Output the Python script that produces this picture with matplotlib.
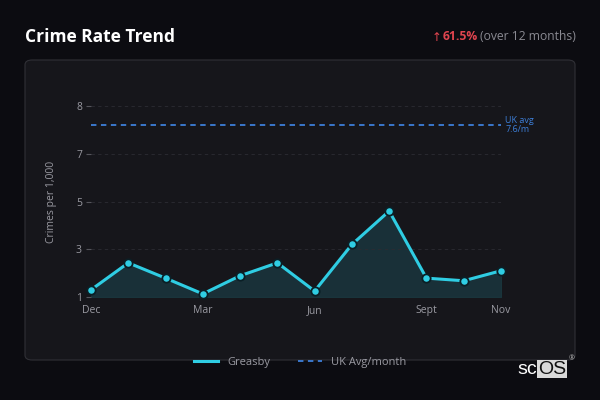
import matplotlib
matplotlib.use('Agg')
import matplotlib.pyplot as plt
import numpy as np
from matplotlib.patches import FancyBboxPatch
from matplotlib.lines import Line2D

plt.rcParams['font.family'] = ['Open Sans', 'DejaVu Sans']

months = ['Dec', 'Jan', 'Feb', 'Mar', 'Apr', 'May', 'Jun', 'Jul', 'Aug', 'Sept', 'Oct', 'Nov']
greasby = [1.3, 2.43, 1.79, 1.13, 1.89, 2.43, 1.25, 3.2, 4.6, 1.79, 1.68, 2.1]
uk_avg = 7.6
y_ticks = [1, 3, 5, 7, 8]
x_tick_idx = [0, 3, 6, 9, 11]

BG = '#0c0c11'
CARD = '#16161b'
CYAN = '#2fcde3'
BLUE = '#3d7fd9'
GRAY = '#9a9aa2'

fig = plt.figure(figsize=(6, 4), dpi=100, facecolor=BG)

# card behind the plot
card = FancyBboxPatch((25 / 600, 40 / 400), 550 / 600, 300 / 400,
                      boxstyle='round,pad=0,rounding_size=0.012',
                      transform=fig.transFigure, facecolor=CARD,
                      edgecolor='#303036', linewidth=0.8, zorder=-1)
fig.patches.append(card)

ax = fig.add_axes([91 / 600, 1 - 297 / 400, 410 / 600, (297 - 106) / 400])
ax.set_facecolor('none')

pos = np.arange(len(y_ticks))
ax.set_yscale('function', functions=(lambda v: np.interp(v, y_ticks, pos),
                                     lambda p: np.interp(p, pos, y_ticks)))

x = np.arange(len(months))
ax.fill_between(x, greasby, 1, color='#1b3a42', alpha=0.75, zorder=1)
ax.plot(x, greasby, color=CYAN, lw=2.2, marker='o', ms=6,
        markerfacecolor=CYAN, markeredgecolor='#0b1f26', markeredgewidth=1.3,
        zorder=3, clip_on=False)
ax.plot([x[0], x[-1]], [uk_avg, uk_avg], color=BLUE, lw=1.3,
        ls=(0, (3, 2.5)), zorder=2)
ax.text(x[-1] + 0.12, uk_avg, 'UK avg\n7.6/m', color=BLUE, fontsize=6.5,
        va='center', ha='left', linespacing=1.1)

ax.set_xlim(0, 11)
ax.set_ylim(1, 8)
ax.set_yticks(y_ticks)
ax.set_yticklabels([str(t) for t in y_ticks])
ax.set_xticks(x_tick_idx)
ax.set_xticklabels([months[i] for i in x_tick_idx])
ax.yaxis.set_minor_locator(matplotlib.ticker.NullLocator())

ax.tick_params(axis='y', colors='#55555c', labelcolor=GRAY, labelsize=7.5,
               length=3.5, width=0.8, pad=3)
ax.tick_params(axis='x', length=0, labelcolor=GRAY, labelsize=7.5, pad=6)
for s in ax.spines.values():
    s.set_visible(False)
ax.grid(axis='y', color='#2c2c33', lw=0.6, ls=(0, (4, 4)))
ax.set_ylabel('Crimes per 1,000', color=GRAY, fontsize=7.5, labelpad=14)

fig.text(25 / 600, 1 - 37 / 400, 'Crime Rate Trend', color='white',
         fontsize=12.5, fontweight='bold', va='center', ha='left')
fig.text(576 / 600, 1 - 37 / 400, '(over 12 months)', color='#8a8a92',
         fontsize=8.7, va='center', ha='right')
fig.text(478 / 600, 1 - 37 / 400, '61.5%', color='#e0454f',
         fontsize=8.7, fontweight='bold', va='center', ha='right')
fig.text(432 / 600, 1 - 37.5 / 400, '↑', color='#e0454f',
         fontsize=8.5, va='center', ha='left', family='DejaVu Sans')

handles = [Line2D([], [], color=CYAN, lw=2.2),
           Line2D([], [], color=BLUE, lw=1.3, ls=(0, (3, 2.5)))]
fig.legend(handles, ['Greasby', 'UK Avg/month'], loc='center',
           bbox_to_anchor=(0.5, 1 - 362 / 400), ncol=2,
           frameon=False, fontsize=8, labelcolor=GRAY, handlelength=2.2,
           columnspacing=2.5, handletextpad=0.8)

fig.text(517 / 600, 1 - 369 / 400, 'sc', color='white', fontsize=14,
         va='center', ha='left', family='Liberation Sans')
fig.text(538 / 600, 1 - 369 / 400, 'OS', color='#111111', fontsize=14,
         va='center', ha='left', family='Liberation Sans',
         bbox=dict(boxstyle='square,pad=0.05', facecolor='#d9d9d9', edgecolor='none'))
fig.text(569 / 600, 1 - 359 / 400, '®', color='#bbbbbb', fontsize=5,
         va='center', ha='left')

fig.savefig('out.png', dpi=100, facecolor=BG)
